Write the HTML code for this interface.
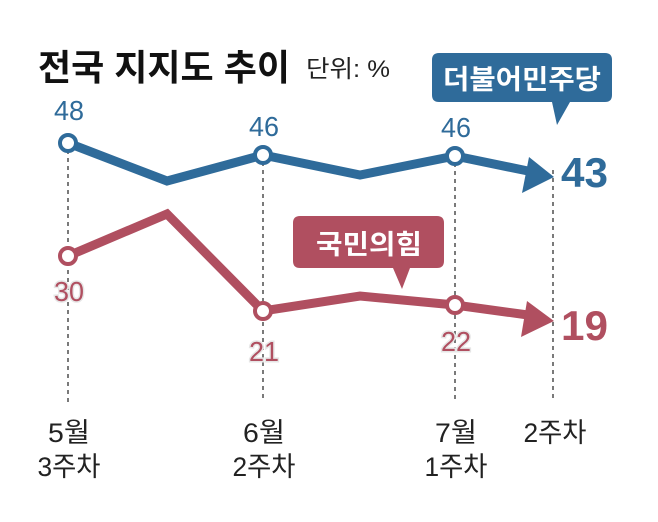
<!DOCTYPE html>
<html><head><meta charset="utf-8"><style>
html,body{margin:0;padding:0;background:#fff;}
svg{display:block;font-family:"Liberation Sans","Noto Sans CJK KR",sans-serif;}
</style></head><body>
<svg width="658" height="522" viewBox="0 0 658 522">
<text x="38" y="80" font-size="36" font-weight="bold" fill="#111" textLength="252" lengthAdjust="spacingAndGlyphs">전국 지지도 추이</text>
<text x="306" y="77" font-size="24" fill="#222" textLength="84" lengthAdjust="spacingAndGlyphs">단위: %</text>
<g stroke="#222" stroke-width="1.2" stroke-dasharray="4,4">
<line x1="68" y1="150" x2="68" y2="402"/>
<line x1="263" y1="162" x2="263" y2="402"/>
<line x1="455" y1="163" x2="455" y2="402"/>
<line x1="553" y1="170" x2="553" y2="402"/>
</g>
<path d="M432,60 Q432,53 439,53 L605,53 Q612,53 612,60 L612,95 Q612,102 605,102 L570,102 L557,125 L552,102 L439,102 Q432,102 432,95 Z" fill="#2f6b9a"/>
<text x="522" y="89" font-size="27" font-weight="bold" fill="#fff" text-anchor="middle" textLength="158" lengthAdjust="spacingAndGlyphs">더불어민주당</text>
<path d="M293,223 Q293,216 300,216 L437,216 Q444,216 444,223 L444,261 Q444,268 437,268 L410,268 L402,289 L393,268 L300,268 Q293,268 293,261 Z" fill="#b04f60"/>
<text x="369" y="254" font-size="27" font-weight="bold" fill="#fff" text-anchor="middle" textLength="106" lengthAdjust="spacingAndGlyphs">국민의힘</text>
<polyline points="68,143 167,181 263,155 360,175 455,156 528,171" fill="none" stroke="#2f6b9a" stroke-width="9" stroke-linejoin="miter"/>
<polygon points="554,177 522,193 529,157" fill="#2f6b9a"/>
<polyline points="68,256 167,214 263,311 360,296 455,305 528,315" fill="none" stroke="#b04f60" stroke-width="9" stroke-linejoin="miter"/>
<polygon points="554,321 521,337 527,301" fill="#b04f60"/>
<g fill="#fff" stroke-width="4">
<circle cx="68" cy="143" r="8" stroke="#2f6b9a"/>
<circle cx="263" cy="155" r="8" stroke="#2f6b9a"/>
<circle cx="455" cy="156" r="8" stroke="#2f6b9a"/>
<circle cx="68" cy="256" r="8" stroke="#b04f60"/>
<circle cx="263" cy="311" r="8" stroke="#b04f60"/>
<circle cx="455" cy="305" r="8" stroke="#b04f60"/>
</g>
<g font-size="28" fill="#2f6b9a" text-anchor="middle">
<text x="69" y="120" textLength="30" lengthAdjust="spacingAndGlyphs">48</text>
<text x="264" y="136" textLength="30" lengthAdjust="spacingAndGlyphs">46</text>
<text x="456" y="137" textLength="30" lengthAdjust="spacingAndGlyphs">46</text>
</g>
<text x="561" y="187" font-size="42" font-weight="bold" fill="#2f6b9a" textLength="47" lengthAdjust="spacingAndGlyphs">43</text>
<g font-size="28" fill="#b04f60" text-anchor="middle" stroke="#e6e6e6" stroke-width="3" paint-order="stroke">
<text x="69" y="301" textLength="30" lengthAdjust="spacingAndGlyphs">30</text>
<text x="264" y="361" textLength="30" lengthAdjust="spacingAndGlyphs">21</text>
<text x="456" y="351" textLength="30" lengthAdjust="spacingAndGlyphs">22</text>
</g>
<text x="561" y="340" font-size="42" font-weight="bold" fill="#b04f60" textLength="47" lengthAdjust="spacingAndGlyphs">19</text>
<g font-size="27" fill="#222" text-anchor="middle">
<text x="69" y="442" textLength="42" lengthAdjust="spacingAndGlyphs">5월</text><text x="69" y="476" textLength="63" lengthAdjust="spacingAndGlyphs">3주차</text>
<text x="264" y="442" textLength="42" lengthAdjust="spacingAndGlyphs">6월</text><text x="264" y="476" textLength="63" lengthAdjust="spacingAndGlyphs">2주차</text>
<text x="456" y="442" textLength="42" lengthAdjust="spacingAndGlyphs">7월</text><text x="456" y="476" textLength="63" lengthAdjust="spacingAndGlyphs">1주차</text>
<text x="555" y="442" textLength="63" lengthAdjust="spacingAndGlyphs">2주차</text>
</g>
</svg>
</body></html>
